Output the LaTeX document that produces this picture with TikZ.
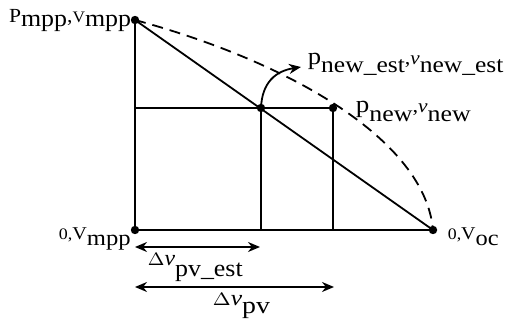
\documentclass[tikz,border=0pt]{standalone}
\usepackage{fontspec}
\setmainfont{Liberation Serif}
\usetikzlibrary{arrows.meta}
\newcommand\fz[2]{{\fontsize{#1}{#1}\selectfont #2}}
\newcommand\lo[3][2pt]{\raisebox{-#1}{\fontsize{#2}{#2}\selectfont #3}}
\newcommand\wide[2][1.2]{\scalebox{#1}[1]{#2}}
\begin{document}
\begin{tikzpicture}[x=0.5pt,y=-0.5pt,
  line width=0.9pt,
  dot/.style={circle,fill=black,inner sep=0pt,minimum size=4.2pt},
  lbl/.style={inner sep=0pt,font=\fontsize{10}{12}\selectfont},
  tip/.style={-{Stealth[length=6pt,width=5pt]}},
  dtip/.style={{Stealth[length=6pt,width=5pt]}-{Stealth[length=6pt,width=5pt]}}]
\useasboundingbox (0,0) rectangle (507,325);
% points
\node[dot] (A) at (135,20) {};
\node[dot] (O) at (135,230) {};
\node[dot] (B) at (433,230) {};
\node[dot] (M) at (261,108) {};
\node[dot] (N) at (333,108) {};
\coordinate (H) at (135,108);
\coordinate (M0) at (261,230);
\coordinate (N0) at (333,230);
\coordinate (T) at (301,67);
\coordinate (E1a) at (135,247);
\coordinate (E1b) at (260,247);
\coordinate (E2a) at (135,287);
\coordinate (E2b) at (334,287);
% frame
\draw (A.center) -- (O.center) -- (B.center);
\draw (A.center) -- (B.center);
\draw (H) -- (N.center);
\draw (M.center) -- (M0);
\draw (N.center) -- (N0);
% dashed curve
\draw[dash pattern=on 5.5pt off 3.5pt] (A.center) .. controls (290,62) and (425,140) .. (B.center);
% curved arrow
\draw[tip] (M.center) .. controls (262,82) and (276,71) .. (T);
% dimension arrows
\draw[dtip] (E1a) -- (E1b);
\draw[dtip] (E2a) -- (E2b);
% labels
\node[lbl,anchor=base east] (LA) at (132,23) {\wide[1.08]{P\lo[1.7pt]{12}{mpp},\fz{8}{V}\lo[1.7pt]{12}{mpp}}};
\node[lbl,anchor=base west] (LO) at (58,240) {\wide[1.12]{\fz{8}{0,}\fz{9}{V}\lo[3pt]{11}{mpp}}};
\node[lbl,anchor=base west] (LB) at (447,240) {\wide[1.11]{\fz{8}{0,}\fz{9}{V}\lo[3pt]{11}{oc}}};
\node[lbl,anchor=base west] (LE) at (307,65) {\wide[1.11]{\fz{12}{p}\lo[4pt]{11.5}{new\_est},\fz{9.5}{\textit{v}}\lo[4pt]{11.5}{new\_est}}};
\node[lbl,anchor=base west] (LN) at (355,113) {\wide[1.125]{\fz{12}{p}\lo[4.5pt]{11.5}{new},\fz{9.5}{\textit{v}}\lo[4.5pt]{11.5}{new}}};
\node[lbl,anchor=base west] (LD1) at (147,265) {\wide[1.08]{\fz{9.5}{$\Delta$}\fz{11}{\textit{v}}\lo[5.5pt]{12}{pv\_est}}};
\node[lbl,anchor=base west] (LD2) at (212,305) {\wide[1.16]{\fz{9.5}{$\Delta$}\fz{11}{\textit{v}}\lo[4pt]{12}{pv}}};
\end{tikzpicture}
\end{document}
